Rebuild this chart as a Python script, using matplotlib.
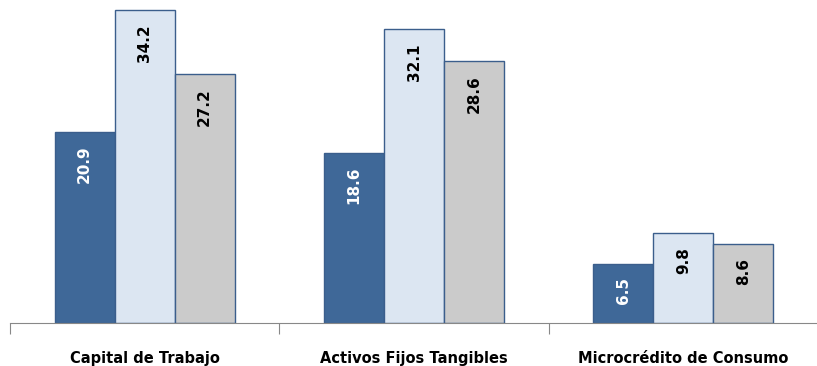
import matplotlib.pyplot as plt
import numpy as np

categorias = ['Capital de Trabajo', 'Activos Fijos Tangibles', 'Microcrédito de Consumo']
serie1 = [20.9, 18.6, 6.5]
serie2 = [34.2, 32.1, 9.8]
serie3 = [27.2, 28.6, 8.6]

colores = ['#3F6898', '#DCE6F2', '#CBCBCB']
colores_texto = ['white', 'black', 'black']
borde = '#3B5E8C'


def main():
    fig = plt.figure(figsize=(8.17, 3.66), dpi=100)
    ax = fig.add_axes([10 / 817, 1 - 323 / 366, 808 / 817, 323 / 366])

    x = np.arange(len(categorias))
    ancho = 0.223
    series = [serie1, serie2, serie3]

    for i, valores in enumerate(series):
        pos = x + (i - 1) * ancho
        barras = ax.bar(pos, valores, ancho, color=colores[i], edgecolor=borde, linewidth=1.0)
        for b, v in zip(barras, valores):
            ax.annotate(f'{v:.1f}', (b.get_x() + b.get_width() / 2, b.get_height()),
                        xytext=(0, -10), textcoords='offset points',
                        rotation=90, ha='center', va='top',
                        fontsize=11, fontweight='bold', color=colores_texto[i])

    ax.set_xlim(-0.5, 2.5)
    ax.set_ylim(0, 35.3)

    # ticks en los bordes de las categorias, etiquetas al centro
    ax.set_xticks([-0.5, 0.5, 1.5, 2.5])
    ax.set_xticklabels([])
    ax.set_xticks(x, minor=True)
    ax.set_xticklabels(categorias, minor=True, fontsize=10.5, fontweight='bold')
    ax.tick_params(axis='x', which='major', length=8, color='#888888', direction='out')
    ax.tick_params(axis='x', which='minor', length=0, pad=20)
    ax.set_yticks([])

    for s in ['top', 'right', 'left']:
        ax.spines[s].set_visible(False)
    ax.spines['bottom'].set_color('#888888')

    plt.savefig('out.png', dpi=100)


if __name__ == "__main__":
    main()
